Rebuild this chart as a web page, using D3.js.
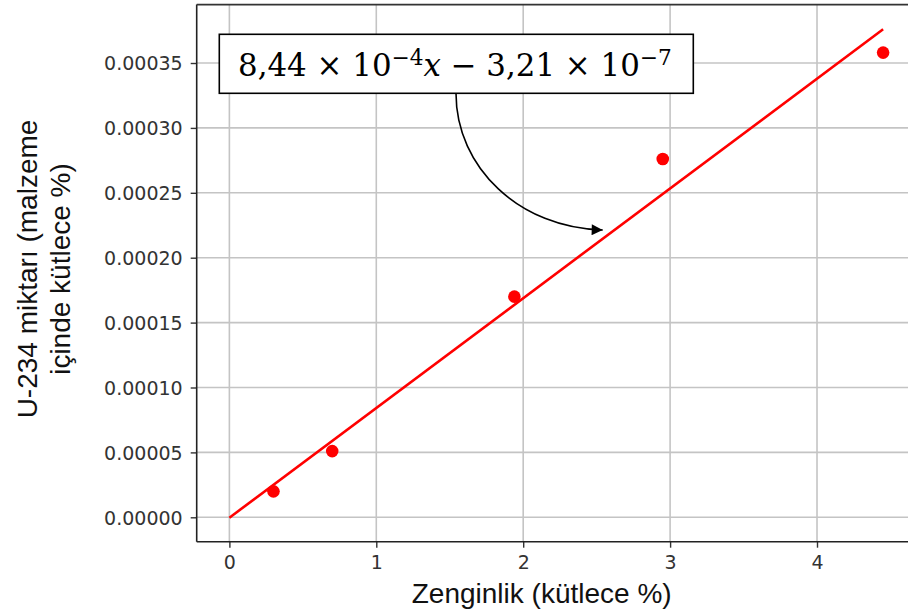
<!DOCTYPE html>
<html><head><meta charset="utf-8">
<script src="https://cdn.jsdelivr.net/npm/d3@7"></script>
<style>body{margin:0;background:#fff}svg{display:block}</style>
</head><body>
<svg id="c" width="908" height="615"></svg>
<script>
// Data
const enrichment = [0.3, 0.7, 1.94, 2.95, 4.45];
const u234 = [0.00002, 0.000051, 0.00017, 0.000276, 0.000358];
const fitX = [0, 4.45];
const fitY = [-3.21e-7, 0.000376];
const xTicks = [0, 1, 2, 3, 4];
const yTicks = [0, 0.00005, 0.0001, 0.00015, 0.0002, 0.00025, 0.0003, 0.00035];
const xLabel = "Zenginlik (kütlece %)";
const yLabelLines = ["U-234 miktarı (malzeme", "içinde kütlece %)"];

const svg = d3.select("#c");
const L = 196.7, R = 915.8, T = 4.6, B = 541.7;
const x = d3.scaleLinear().domain([-0.2225, 4.6725]).range([L, R]);
const y = d3.scaleLinear().domain([-0.0000188, 0.000395]).range([B, T]);

const defs = svg.append("defs");
defs.append("clipPath").attr("id","clip").append("rect")
  .attr("x",L).attr("y",T).attr("width",R-L).attr("height",B-T);
defs.append("marker").attr("id","ah").attr("viewBox","0 0 10 10")
  .attr("refX",10).attr("refY",5).attr("markerWidth",13).attr("markerHeight",11)
  .attr("markerUnits","userSpaceOnUse").attr("orient","auto")
  .append("path").attr("d","M0,0 L10,5 L0,10 Z").attr("fill","#000");

const g = svg.append("g").attr("clip-path","url(#clip)");
// grid
g.selectAll(".gx").data(xTicks).join("line")
  .attr("x1",d=>x(d)).attr("x2",d=>x(d)).attr("y1",T).attr("y2",B)
  .attr("stroke","#c4c4c4").attr("stroke-width",1.6);
g.selectAll(".gy").data(yTicks).join("line")
  .attr("y1",d=>y(d)).attr("y2",d=>y(d)).attr("x1",L).attr("x2",R)
  .attr("stroke","#c4c4c4").attr("stroke-width",1.6);

// fit line
const line = d3.line().x(d=>x(d[0])).y(d=>y(d[1]));
g.append("path").datum(fitX.map((v,i)=>[v,fitY[i]]))
  .attr("d",line).attr("fill","none").attr("stroke","#ff0000").attr("stroke-width",2.6);

// points
g.selectAll("circle").data(enrichment.map((v,i)=>[v,u234[i]])).join("circle")
  .attr("cx",d=>x(d[0])).attr("cy",d=>y(d[1])).attr("r",6.3).attr("fill","#ff0000");

// axes
const xAxis = d3.axisBottom(x).tickValues(xTicks).tickFormat(d3.format("d")).tickSize(6).tickPadding(8);
const yAxis = d3.axisLeft(y).tickValues(yTicks).tickFormat(d3.format(".5f")).tickSize(6).tickPadding(8);
const gx = svg.append("g").attr("transform",`translate(0,${B})`).call(xAxis);
const gy = svg.append("g").attr("transform",`translate(${L},0)`).call(yAxis);
[gx,gy].forEach(a=>{
  a.select(".domain").remove();
  a.selectAll(".tick line").attr("stroke","#333").attr("stroke-width",1.4);
  a.selectAll(".tick text").attr("fill","#333").style("font-family","DejaVu Sans").style("font-size","19px");
});
gy.selectAll(".tick text").attr("dy","0.36em");
// spines
svg.append("line").attr("x1",L).attr("x2",L).attr("y1",T).attr("y2",B).attr("stroke","#222").attr("stroke-width",1.6);
svg.append("line").attr("x1",L).attr("x2",R).attr("y1",B).attr("y2",B).attr("stroke","#222").attr("stroke-width",1.6);
svg.append("line").attr("x1",L).attr("x2",R).attr("y1",T).attr("y2",T).attr("stroke","#333").attr("stroke-width",1.6);

// labels
svg.append("text").attr("x",541.7).attr("y",603).attr("text-anchor","middle")
  .style("font-family","Liberation Sans, Arial, sans-serif").style("font-size","28px").attr("fill","#111").text(xLabel);
const yl = svg.append("text").attr("transform","translate(0,269) rotate(-90)")
  .attr("text-anchor","middle").style("font-family","Liberation Sans, Arial, sans-serif").style("font-size","28px").attr("fill","#111");
yl.selectAll("tspan").data(yLabelLines).join("tspan").attr("x",0).attr("y",(d,i)=>37+i*33).text(d=>d);

// annotation arrow
const p0=[456,93.3], p3=[602.7,230];
svg.append("path").attr("d",`M${p0[0]},${p0[1]} C456,168 520,228 ${p3[0]},${p3[1]}`)
  .attr("fill","none").attr("stroke","#000").attr("stroke-width",1.6).attr("marker-end","url(#ah)");

// annotation box
svg.append("rect").attr("x",219.3).attr("y",34.3).attr("width",474).attr("height",59)
  .attr("fill","#fff").attr("stroke","#000").attr("stroke-width",1.6);
function buildEq(fs){
  svg.selectAll(".eq").remove();
  const eq = svg.append("text").attr("class","eq").attr("x",238).attr("y",76)
    .style("font-family","DejaVu Serif, serif").style("font-size",fs+"px").attr("fill","#000");
  const sup = Math.round(fs*0.36);
  eq.append("tspan").text("8,44 × 10");
  eq.append("tspan").attr("dy",-sup).style("font-size",(fs*0.7)+"px").text("−4");
  eq.append("tspan").attr("dy",sup).style("font-style","italic").text("x");
  eq.append("tspan").text(" − 3,21 × 10");
  eq.append("tspan").attr("dy",-sup).style("font-size",(fs*0.7)+"px").text("−7");
  return eq.node().getComputedTextLength();
}
const w0 = buildEq(34);
buildEq(34*434/w0);
</script>
</body></html>
